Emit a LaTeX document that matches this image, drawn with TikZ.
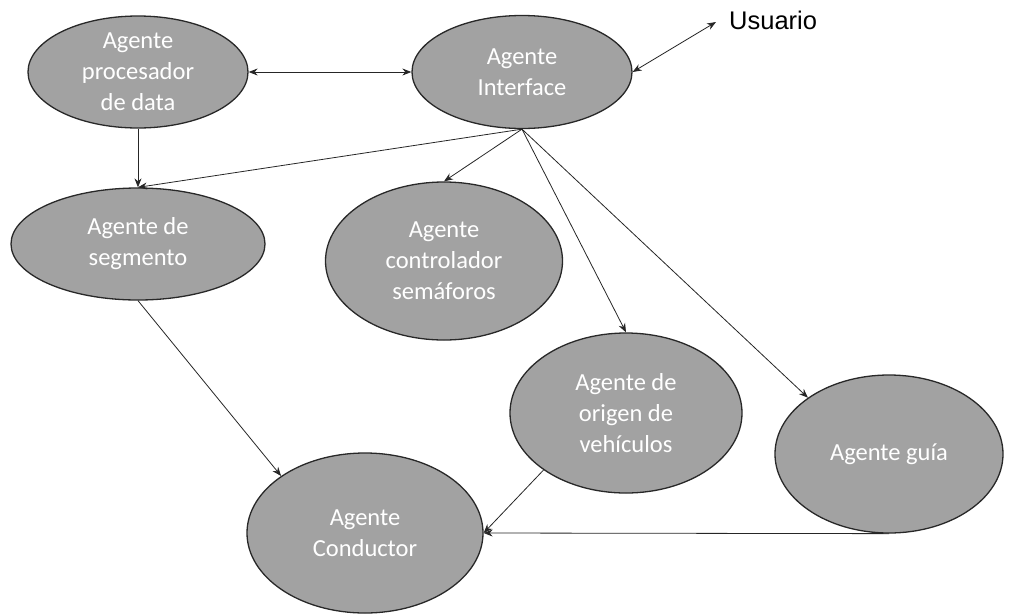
\documentclass[tikz,border=0pt]{standalone}
\usepackage{fontspec}
\setmainfont{Carlito}
\newfontfamily\labelfont{Liberation Sans}
\usetikzlibrary{shapes.geometric,arrows.meta}
\definecolor{agentfill}{RGB}{162,162,162}
\definecolor{agentline}{RGB}{40,40,40}
\tikzset{
  agent/.style={ellipse, draw=agentline, line width=1.3pt, fill=agentfill,
    inner sep=0pt, align=center, text=white,
    font=\fontsize{24.5}{31}\selectfont},
  link/.style={line width=0.8pt, draw=black!85, -{Stealth[length=9pt,width=7pt]}},
  duplex/.style={link, {Stealth[length=9pt,width=7pt]}-{Stealth[length=9pt,width=7pt]}}
}
\begin{document}
\begin{tikzpicture}[x=1pt,y=-1pt]
\useasboundingbox (0,0) rectangle (1010,614);

% agents
\node[agent, minimum width=220pt, minimum height=112pt] (proc) at (138,72)
  {Agente\\procesador\\de data};
\node[agent, minimum width=220pt, minimum height=113pt] (iface) at (522,72)
  {Agente\\Interface};
\node[agent, minimum width=254pt, minimum height=112pt] (seg) at (138,244)
  {Agente de\\segmento};
\node[agent, minimum width=237pt, minimum height=158pt] (ctrl) at (444,261)
  {Agente\\controlador\\semáforos};
\node[agent, minimum width=232pt, minimum height=160pt] (orig) at (626,413)
  {Agente de\\origen de\\vehículos};
\node[agent, minimum width=228pt, minimum height=158pt] (guia) at (889,454)
  {Agente guía};
\node[agent, minimum width=236pt, minimum height=160pt] (cond) at (365,533)
  {Agente\\Conductor};

% external user
\node[font=\labelfont\fontsize{25.5}{28}\selectfont, anchor=west, inner sep=0pt] (user) at (729,20) {Usuario};
\coordinate (userend) at (716,22);

% connectors
\coordinate (hub) at (iface.south);
\draw[duplex] (proc.east) -- (iface.west);
\draw[duplex] (iface.east) -- (userend);
\draw[link] (proc.south) -- (seg.north);
\draw[link] (hub) -- (seg.north);
\draw[link] (hub) -- (ctrl.north);
\draw[link] (hub) -- (orig.north);
\draw[link] (hub) -- (guia.north west);
\draw[link] (seg.south) -- (cond.north west);
\draw[link] (orig.south west) -- (cond.east);
\draw[link] (guia.south) -- (cond.east);
\end{tikzpicture}
\end{document}
